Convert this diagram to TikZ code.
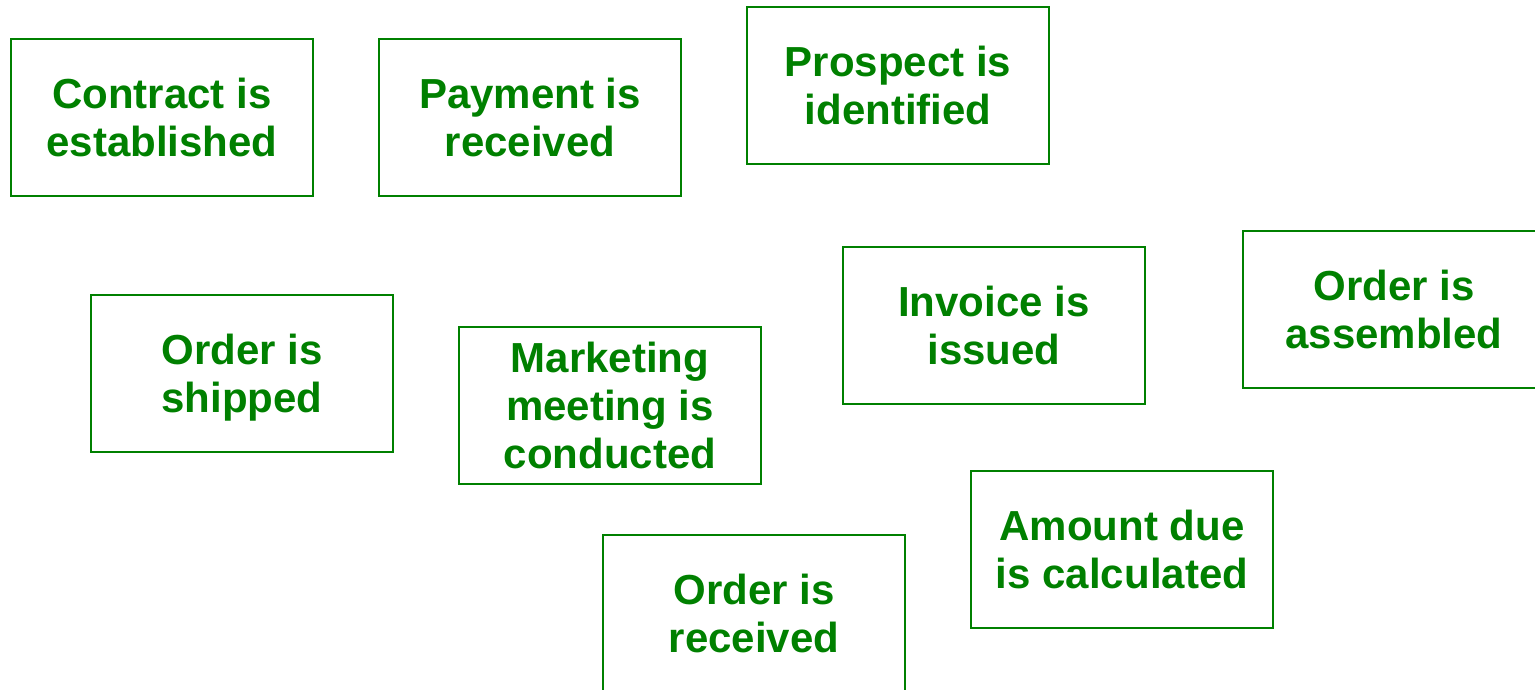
\documentclass[tikz,border=0pt]{standalone}
\usepackage{fontspec}
\setmainfont{Liberation Sans}
\usepackage{xcolor}
\usetikzlibrary{positioning}
\definecolor{eventgreen}{HTML}{008000}
\tikzset{
    event/.style={draw=eventgreen, line width=2pt, text=eventgreen,
        minimum width=302pt, minimum height=157pt, inner sep=0pt,
        text depth=0pt, align=center,
        font=\fontsize{42}{48}\selectfont\bfseries}
}

\begin{document}
\begin{tikzpicture}[x=1pt, y=-1pt]
    \useasboundingbox (0, 0) rectangle (1535, 690);
    \node[event] (contract) at (162, 117.5) {Contract is\\established};
    \node[event] (payment) at (530, 117.5) {Payment is\\received};
    \node[event] (prospect) at (898, 85.5) {Prospect is\\identified};
    \node[event] (shipped) at (242, 373.5) {Order is\\shipped};
    \node[event] (meeting) at (610, 405.5) {Marketing\\meeting is\\conducted};
    \node[event] (invoice) at (994, 325.5) {Invoice is\\issued};
    \node[event] (assembled) at (1394, 309.5) {Order is\\assembled};
    \node[event] (amount) at (1122, 549.5) {Amount due\\is calculated};
    \node[event] (received) at (754, 613.5) {Order is\\received};
\end{tikzpicture}
\end{document}
